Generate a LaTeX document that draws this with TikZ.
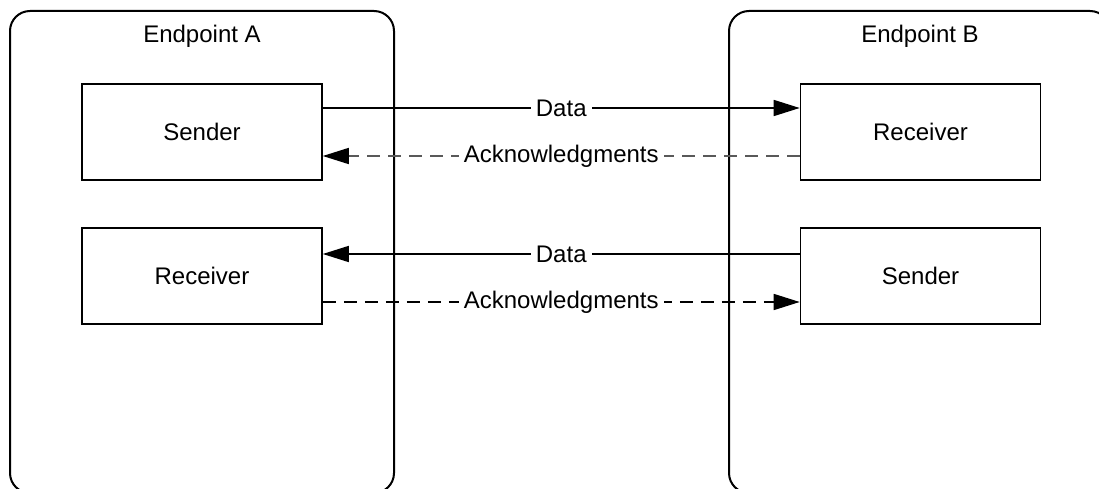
\documentclass[tikz,border=0pt]{standalone}
\usepackage{fontspec}
\setmainfont{Liberation Sans}
\usetikzlibrary{arrows.meta}
\begin{document}
\begin{tikzpicture}[x=1pt,y=1pt,
  font=\fontsize{24}{28}\selectfont,
  outer/.style={draw=black,line width=2pt,rounded corners=20pt},
  inner/.style={draw=black,line width=1.6pt,minimum width=240pt,minimum height=96pt,inner sep=0pt},
  conn/.style={line width=1.6pt,-{Triangle[length=26pt,width=16pt,fill=black,color=black]}},
  ack/.style={conn,dash pattern=on 13pt off 8pt},
  lbl/.style={fill=white,inner xsep=5pt,inner ysep=2pt}]
\useasboundingbox (0,0) rectangle (1099,488);
\clip (0,0) rectangle (1099,488);
\fill[white] (0,0) rectangle (1099,488);
\draw[outer] (10,477) rectangle (394,-5);
\draw[outer] (729,477) rectangle (1110,-5);
\node (tA) at (202,452) {Endpoint A};
\node (tB) at (920,452) {Endpoint B};
\node[inner] (sA) at (202,356) {Sender};
\node[inner] (rB) at (920.5,356) {Receiver};
\node[inner] (rA) at (202,212) {Receiver};
\node[inner] (sB) at (920.5,212) {Sender};
\draw[conn] ([yshift=24pt]sA.east) -- node[lbl]{Data} ([yshift=24pt]rB.west);
\draw[ack,draw=black!65] ([yshift=-24pt]rB.west) -- node[lbl,text=black]{Acknowledgments} ([yshift=-24pt]sA.east);
\draw[conn] ([yshift=22pt]sB.west) -- node[lbl]{Data} ([yshift=22pt]rA.east);
\draw[ack] ([yshift=-26pt]rA.east) -- node[lbl]{Acknowledgments} ([yshift=-26pt]sB.west);
\end{tikzpicture}
\end{document}
